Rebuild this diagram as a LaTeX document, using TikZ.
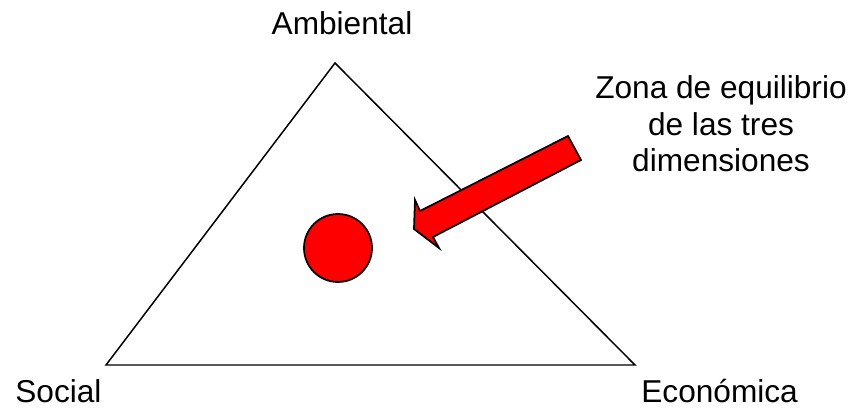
\documentclass[tikz,border=0pt]{standalone}
\usepackage{fontspec}
\setmainfont{Liberation Sans}
\usepackage{xcolor}
\usetikzlibrary{positioning}

\begin{document}
\begin{tikzpicture}[
  x=0.02cm, y=-0.02cm,
  font=\fontsize{18}{21}\selectfont,
  vertex/.style={inner sep=0pt, anchor=base},
  dimension/.style={line width=0.85pt, black, line join=miter},
  core/.style={circle, draw=black, line width=1pt, fill=red,
               minimum size=1.36cm, inner sep=0pt},
  pointer/.style={draw=black, line width=1pt, fill=red, line join=miter},
  note/.style={inner sep=0pt, anchor=base, align=center}]

%% marco: 858 x 408 px, 1 px = 0.02 cm
\useasboundingbox (0,0) rectangle (858,408);

%% ---- vértices del triángulo ----
\coordinate (amb) at (335,63);
\coordinate (soc) at (106,365);
\coordinate (eco) at (635,365);

\draw[dimension] (amb) -- (soc) -- (eco) -- cycle;

%% ---- etiquetas de las tres dimensiones ----
\node[vertex] (lamb) at (342,35) {Ambiental};
\node[vertex, anchor=base west] (lsoc) at (15,402) {Social};
\node[vertex, anchor=base west] (leco) at (641,402) {Económica};

%% ---- zona de equilibrio ----
\node[core] (eq) at (338,248) {};

% flecha de bloque, cabeza corta y ancha
\coordinate (tailA) at (568,136);
\coordinate (tailB) at (581,160);
\coordinate (neckA) at (420,211);
\coordinate (barbA) at (415,200);
\coordinate (tip)   at (414,229);
\coordinate (barbB) at (439,248);
\coordinate (neckB) at (433,237);
\draw[pointer] (tailA) -- (neckA) -- (barbA) -- (tip) -- (barbB)
  -- (neckB) -- (tailB) -- cycle;

% el base de un nodo multilínea es la última línea
\node[note] (lzone) at (721,172)
  {Zona de equilibrio\\ de las tres\\ dimensiones};
\end{tikzpicture}
\end{document}
